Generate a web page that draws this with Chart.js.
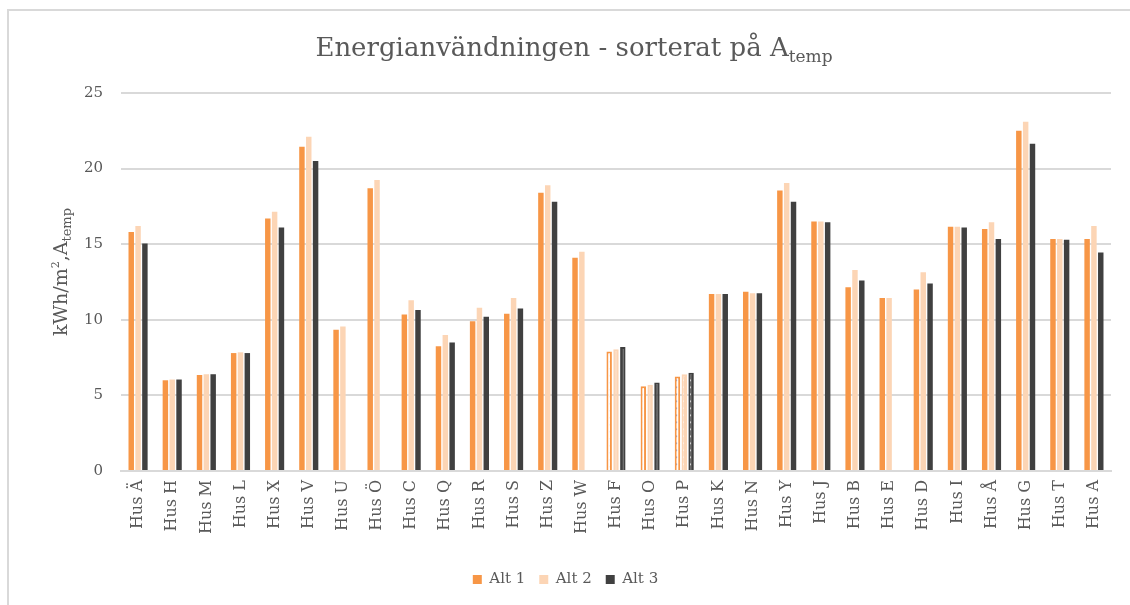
<!DOCTYPE html>
<html>
<head>
<meta charset="utf-8">
<script src="https://cdn.jsdelivr.net/npm/chart.js@4.4.0/dist/chart.umd.min.js"></script>
<style>
  html, body { margin: 0; padding: 0; background: #fff; }
  #wrap { position: relative; width: 1130px; height: 605px; overflow: hidden; }
  #frame { position: absolute; left: 7px; top: 9px; width: 1200px; height: 700px; border: 2px solid #d9d9d9; box-sizing: border-box; }
  canvas { position: absolute; left: 0; top: 0; }
</style>
</head>
<body>
<div id="wrap">
  <div id="frame"></div>
  <canvas id="c" width="1130" height="605"></canvas>
</div>
<script>
const categories = ['Hus Ä','Hus H','Hus M','Hus L','Hus X','Hus V','Hus U','Hus Ö','Hus C','Hus Q','Hus R','Hus S','Hus Z','Hus W','Hus F','Hus O','Hus P','Hus K','Hus N','Hus Y','Hus J','Hus B','Hus E','Hus D','Hus I','Hus Å','Hus G','Hus T','Hus A'];
const alt1 = [15.8, 6.0, 6.35, 7.8, 16.7, 21.45, 9.35, 18.7, 10.35, 8.25, 9.9, 10.4, 18.4, 14.1, 7.9, 5.6, 6.25, 11.7, 11.85, 18.55, 16.5, 12.15, 11.45, 12.0, 16.15, 16.0, 22.5, 15.35, 15.35];
const alt2 = [16.2, 6.05, 6.4, 7.85, 17.15, 22.1, 9.55, 19.25, 11.3, 9.0, 10.8, 11.45, 18.9, 14.5, 8.05, 5.7, 6.4, 11.7, 11.75, 19.05, 16.5, 13.3, 11.45, 13.15, 16.15, 16.45, 23.1, 15.35, 16.2];
const alt3 = [15.05, 6.05, 6.4, 7.8, 16.1, 20.5, null, null, 10.65, 8.5, 10.2, 10.75, 17.8, null, 8.2, 5.85, 6.5, 11.7, 11.75, 17.8, 16.45, 12.6, null, 12.4, 16.1, 15.35, 21.65, 15.3, 14.45];
const seriesNames = ['Alt 1', 'Alt 2', 'Alt 3'];
const hatchedCategories = ['Hus F', 'Hus O', 'Hus P'];
const yTicks = [0, 5, 10, 15, 20, 25];

const colors = ['#F79646', '#FCD5B5', '#404040'];
const SERIF = '"DejaVu Serif", "Liberation Serif", serif';
const GREY = '#595959';

function makePattern(kind) {
  const s = 7;
  const pc = document.createElement('canvas');
  pc.width = s; pc.height = s;
  const g = pc.getContext('2d');
  g.fillStyle = '#ffffff';
  g.fillRect(0, 0, s, s);
  if (kind === 0) {
    g.strokeStyle = '#3355bb';
    g.lineWidth = 2;
    g.beginPath();
    g.moveTo(1.5, 5.5); g.lineTo(4.5, 1.5);
    g.stroke();
  } else if (kind === 1) {
    g.fillStyle = '#FCD5B5';
    g.fillRect(0, 0, s, s);
    g.strokeStyle = '#ffffff';
    g.lineWidth = 1.5;
    g.beginPath();
    g.moveTo(1.5, 5.5); g.lineTo(4.5, 1.5);
    g.stroke();
  } else {
    g.fillStyle = '#404040';
    g.fillRect(0, 0, s, s);
    g.strokeStyle = '#ffffff';
    g.lineWidth = 1.6;
    g.beginPath();
    g.moveTo(2, 5.5); g.lineTo(4.5, 1.5);
    g.stroke();
  }
  return document.getElementById('c').getContext('2d').createPattern(pc, 'repeat');
}
const patterns = [makePattern(0), makePattern(1), makePattern(2)];

function isHatched(ctx) {
  return hatchedCategories.includes(categories[ctx.dataIndex]);
}

function makeDataset(label, data, k) {
  return {
    label: label,
    data: data,
    backgroundColor: ctx => (ctx.type === 'data' && isHatched(ctx)) ? patterns[k] : colors[k],
    borderColor: colors[k],
    borderWidth: ctx => (ctx.type === 'data' && isHatched(ctx)) ? 2 : 0,
    barPercentage: 0.8,
    categoryPercentage: 0.6
  };
}

const titlePlugin = {
  id: 'customTexts',
  afterDraw(chart) {
    const c = chart.ctx;
    c.save();
    c.fillStyle = GREY;
    c.textBaseline = 'alphabetic';
    const mainFont = '26px ' + SERIF;
    const subFont = '17px ' + SERIF;
    const t1 = 'Energianvändningen - sorterat på A';
    const t2 = 'temp';
    c.font = mainFont; const w1 = c.measureText(t1).width;
    c.font = subFont; const w2 = c.measureText(t2).width;
    const cx = 574, by = 56;
    let x = cx - (w1 + w2) / 2;
    c.font = mainFont; c.textAlign = 'left';
    c.fillText(t1, x, by);
    c.font = subFont;
    c.fillText(t2, x + w1, by + 6);
    c.translate(60, 272);
    c.rotate(-Math.PI / 2);
    const segs = [
      { t: 'kWh/m', f: '19px ' + SERIF, dy: 0 },
      { t: '2', f: '11px ' + SERIF, dy: -8 },
      { t: ',A', f: '19px ' + SERIF, dy: 0 },
      { t: 'temp', f: '13px ' + SERIF, dy: 4 }
    ];
    let tw = 0;
    segs.forEach(s => { c.font = s.f; s.w = c.measureText(s.t).width; tw += s.w; });
    let px = -tw / 2;
    segs.forEach(s => { c.font = s.f; c.fillText(s.t, px, 7 + s.dy); px += s.w; });
    c.restore();
  }
};

new Chart(document.getElementById('c'), {
  type: 'bar',
  data: {
    labels: categories,
    datasets: [
      makeDataset(seriesNames[0], alt1, 0),
      makeDataset(seriesNames[1], alt2, 1),
      makeDataset(seriesNames[2], alt3, 2)
    ]
  },
  options: {
    responsive: false,
    animation: false,
    layout: { padding: { left: 20, right: 19, top: 93, bottom: 8 } },
    plugins: {
      title: { display: false },
      tooltip: { enabled: false },
      legend: {
        position: 'bottom',
        labels: {
          boxWidth: 9, boxHeight: 9, padding: 14,
          color: GREY,
          font: { family: SERIF, size: 15 },
          generateLabels(chart) {
            return chart.data.datasets.map((d, i) => ({
              text: d.label, fillStyle: colors[i], strokeStyle: colors[i], lineWidth: 0,
              datasetIndex: i, hidden: false, fontColor: GREY
            }));
          }
        }
      }
    },
    scales: {
      x: {
        grid: { display: false, drawTicks: false },
        border: { display: true, color: '#d9d9d9', width: 2 },
        ticks: {
          color: GREY, font: { family: SERIF, size: 16 },
          minRotation: 90, maxRotation: 90, autoSkip: false, padding: 9
        },
        afterFit(scale) { scale.height = 87; }
      },
      y: {
        min: 0, max: 25,
        afterBuildTicks(scale) { scale.ticks = yTicks.map(v => ({ value: v })); },
        grid: { color: '#d9d9d9', lineWidth: 2, drawTicks: false },
        border: { display: false },
        ticks: { color: GREY, font: { family: SERIF, size: 15 }, padding: 18 },
        afterFit(scale) { scale.width = 101; }
      }
    }
  },
  plugins: [titlePlugin]
});
</script>
</body>
</html>
